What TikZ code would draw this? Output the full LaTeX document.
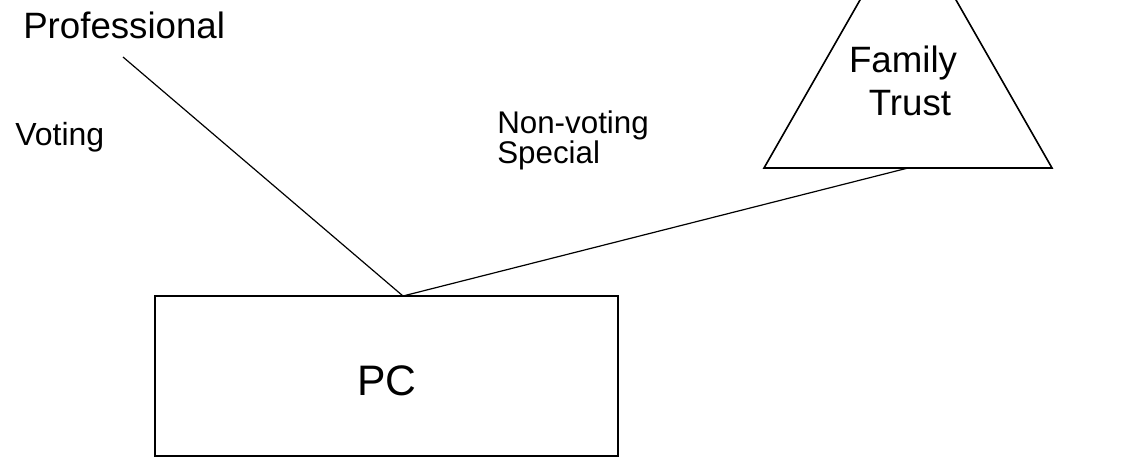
\documentclass[tikz,border=0pt]{standalone}
\usepackage{fontspec}
\setmainfont{Liberation Sans}
\begin{document}
\begin{tikzpicture}[x=0.75pt,y=-0.75pt,
  lbl/.style={inner sep=0pt,anchor=base west},
  conn/.style={line width=0.9pt},
  shp/.style={line width=1.2pt}]
\useasboundingbox (0,0) rectangle (1122,457);
\clip (0,0) rectangle (1122,457);
% PC box
\node[shp,draw,minimum width=347.25pt,minimum height=120pt,inner sep=0pt] (pc) at (386.5,376) {};
\node[inner sep=0pt,anchor=base] (pctxt) at (387,395) {\fontsize{32}{38}\selectfont PC};
% triangle
\coordinate (apex) at (908,-84);
\coordinate (bl) at (764,168);
\coordinate (br) at (1052,168);
\draw[shp,line join=miter] (apex) -- (bl) -- (br) -- cycle;
\node[inner sep=0pt,anchor=base] (fam) at (903,72) {\fontsize{27.5}{33}\selectfont Family};
\node[inner sep=0pt,anchor=base] (tru) at (910,115) {\fontsize{27.5}{33}\selectfont Trust};
% labels
\node[lbl] (prof) at (23,38) {\fontsize{27.5}{33}\selectfont Professional};
\node[lbl] (vot) at (15,145) {\fontsize{24}{29}\selectfont Voting};
\node[lbl] (nv) at (497,133) {\fontsize{23.5}{28}\selectfont Non-voting};
\node[lbl] (sp) at (497,163) {\fontsize{23.5}{28}\selectfont Special};
% connectors
\coordinate (profend) at (123,57);
\coordinate (pctop) at (403,296);
\coordinate (tribase) at (908,168);
\draw[conn] (profend) -- (pctop) -- (tribase);
\end{tikzpicture}
\end{document}
